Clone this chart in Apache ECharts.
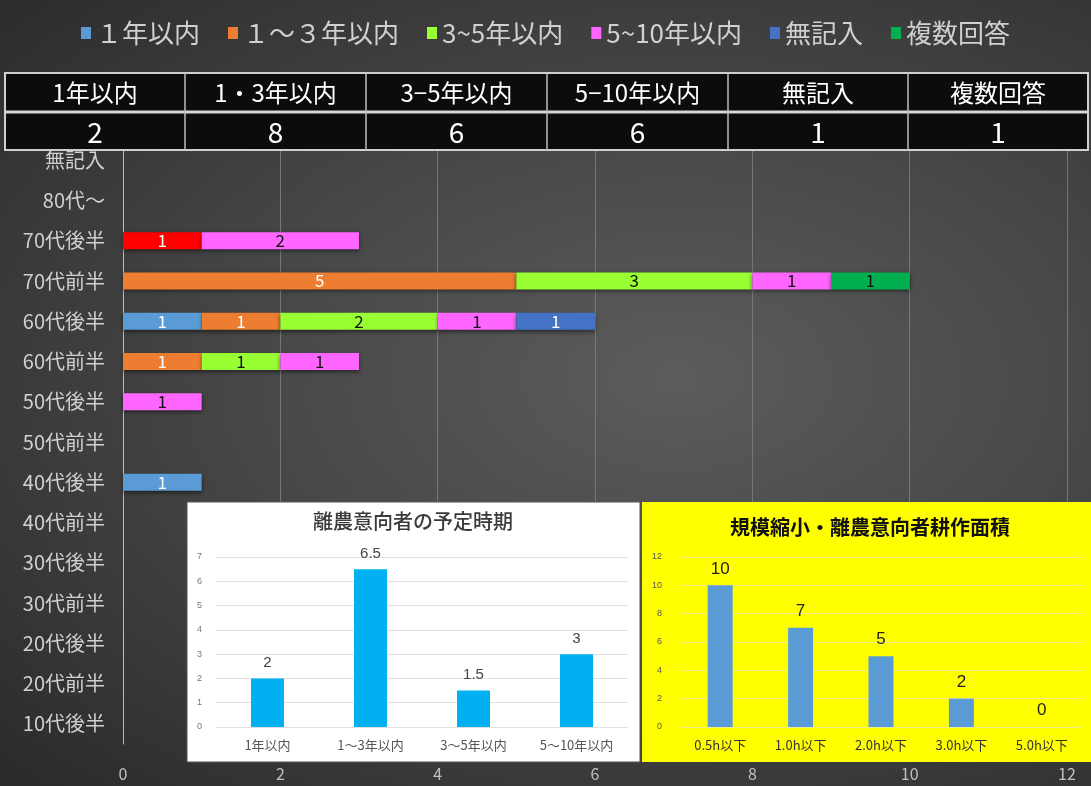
<!DOCTYPE html>
<html>
<head>
<meta charset="utf-8">
<script src="https://cdn.jsdelivr.net/npm/echarts@6/dist/echarts.min.js"></script>
<style>
  html, body { margin: 0; padding: 0; }
  #main {
    width: 1091px; height: 786px;
    background: radial-gradient(ellipse at 62% 48%, #5c5c5c 0%, #474747 45%, #2a2a2a 100%);
  }
</style>
</head>
<body>
<div id="main"></div>
<script>
// 年代カテゴリ（下から上）
var ages = ["10代後半", "20代前半", "20代後半", "30代前半", "30代後半", "40代前半", "40代後半",
  "50代前半", "50代後半", "60代前半", "60代後半", "70代前半", "70代後半", "80代～", "無記入"];

// 各系列（agesの順）
var redVals   = [0, 0, 0, 0, 0, 0, 0, 0, 0, 0, 0, 0, 1, 0, 0];
var y1Vals    = [0, 0, 0, 0, 0, 0, 1, 0, 0, 0, 1, 0, 0, 0, 0];
var y1to3Vals = [0, 0, 0, 0, 0, 0, 0, 0, 0, 1, 1, 5, 0, 0, 0];
var y3to5Vals = [0, 0, 0, 0, 0, 0, 0, 0, 0, 1, 2, 3, 0, 0, 0];
var y5to10Vals= [0, 0, 0, 0, 0, 0, 0, 0, 1, 1, 1, 1, 2, 0, 0];
var noneVals  = [0, 0, 0, 0, 0, 0, 0, 0, 0, 0, 1, 0, 0, 0, 0];
var multiVals = [0, 0, 0, 0, 0, 0, 0, 0, 0, 0, 0, 1, 0, 0, 0];

var legendNames = ["１年以内", "１～３年以内", "3~5年以内", "5~10年以内", "無記入", "複数回答"];

// 上部の表
var tableHeads = ["1年以内", "1・3年以内", "3−5年以内", "5−10年以内", "無記入", "複数回答"];
var tableVals = [2, 8, 6, 6, 1, 1];

// 小グラフ1：離農意向者の予定時期
var planCats = ["1年以内", "1～3年以内", "3～5年以内", "5～10年以内"];
var planVals = [2, 6.5, 1.5, 3];

// 小グラフ2：規模縮小・離農意向者耕作面積
var areaCats = ["0.5h以下", "1.0h以下", "2.0h以下", "3.0h以下", "5.0h以下"];
var areaVals = [10, 7, 5, 2, 0];

var myChart = echarts.init(document.getElementById("main"));
var font = "'Noto Sans CJK JP', sans-serif";

function stackSeries(name, data, color, labelColor) {
  return {
    name: name,
    type: "bar",
    stack: "total",
    xAxisIndex: 0,
    yAxisIndex: 0,
    barWidth: 17,
    data: data,
    itemStyle: { color: color, shadowBlur: 4, shadowColor: "rgba(0,0,0,0.5)", shadowOffsetY: 2 },
    label: {
      show: true,
      position: "inside",
      color: labelColor,
      fontSize: 17,
      fontFamily: font,
      formatter: function (p) { return p.value ? p.value : ""; }
    },
    z: 2
  };
}

// 表のグラフィック
var graphics = [];
var colX = [5, 185, 366, 547, 728, 908, 1088];
graphics.push({ type: "rect", shape: { x: 5, y: 73, width: 1083, height: 77 },
  style: { fill: "#0c0c0c", stroke: "#cfcfcf", lineWidth: 2 }, z: 10 });
graphics.push({ type: "line", shape: { x1: 5, y1: 112, x2: 1088, y2: 112 },
  style: { stroke: "#d8d8d8", lineWidth: 3 }, z: 11 });
for (var i = 0; i < tableHeads.length; i++) {
  if (i > 0) {
    graphics.push({ type: "line", shape: { x1: colX[i], y1: 73, x2: colX[i], y2: 150 },
      style: { stroke: "#bdbdbd", lineWidth: 1.5 }, z: 11 });
  }
  var cx = (colX[i] + colX[i + 1]) / 2;
  graphics.push({ type: "text", x: cx, y: 93, z: 12,
    style: { text: tableHeads[i], fill: "#fff", font: "24px " + font, align: "center", verticalAlign: "middle" } });
  graphics.push({ type: "text", x: cx, y: 132, z: 12,
    style: { text: String(tableVals[i]), fill: "#fff", font: "28px " + font, align: "center", verticalAlign: "middle" } });
}
// 小グラフのパネル
graphics.push({ type: "rect", shape: { x: 187, y: 502, width: 453, height: 260 },
  style: { fill: "#ffffff", stroke: "#555", lineWidth: 1 }, z: 1 });
graphics.push({ type: "rect", shape: { x: 642, y: 502, width: 449, height: 260 },
  style: { fill: "#ffff00" }, z: 1 });
graphics.push({ type: "text", x: 413, y: 521, z: 5,
  style: { text: "離農意向者の予定時期", fill: "#3a3a3a", font: "500 20px " + font, align: "center", verticalAlign: "middle" } });
graphics.push({ type: "text", x: 870, y: 527, z: 5,
  style: { text: "規模縮小・離農意向者耕作面積", fill: "#111", font: "bold 20px " + font, align: "center", verticalAlign: "middle" } });

var option = {
  animation: false,
  legend: {
    data: legendNames,
    top: 15,
    left: "center",
    itemWidth: 10,
    itemHeight: 12,
    itemGap: 28,
    icon: "rect",
    textStyle: { color: "#d0d0d0", fontSize: 26, fontFamily: font }
  },
  graphic: graphics,
  grid: [
    { left: 123, right: 24, top: 140, bottom: 42 },
    { left: 216, right: 463, top: 557, bottom: 59 },
    { left: 680, right: 9, top: 557, bottom: 59 }
  ],
  xAxis: [
    {
      gridIndex: 0, type: "value", min: 0, max: 12, interval: 2,
      axisLine: { show: false }, axisTick: { show: false },
      axisLabel: { color: "#c0c0c0", fontSize: 16, margin: 22, fontFamily: font },
      splitLine: { lineStyle: { color: "#777", width: 1 } },
      z: 0
    },
    {
      gridIndex: 1, type: "category", data: planCats,
      axisLine: { show: false }, axisTick: { show: false },
      axisLabel: { color: "#555", fontSize: 13, margin: 12, fontFamily: font },
      z: 3
    },
    {
      gridIndex: 2, type: "category", data: areaCats,
      axisLine: { show: false }, axisTick: { show: false },
      axisLabel: { color: "#333", fontSize: 13, margin: 12, fontFamily: font },
      z: 3
    }
  ],
  yAxis: [
    {
      gridIndex: 0, type: "category", data: ages,
      axisLine: { lineStyle: { color: "#bbb" } }, axisTick: { show: false },
      axisLabel: { color: "#d0d0d0", fontSize: 20, margin: 18, fontFamily: font },
      z: 0
    },
    {
      gridIndex: 1, type: "value", min: 0, max: 7, interval: 1,
      axisLine: { show: false }, axisTick: { show: false },
      axisLabel: { color: "#777", fontSize: 9, margin: 14 },
      splitLine: { lineStyle: { color: "#e0e0e0" } },
      z: 3
    },
    {
      gridIndex: 2, type: "value", min: 0, max: 12, interval: 2,
      axisLine: { show: false }, axisTick: { show: false },
      axisLabel: { color: "#555", fontSize: 9, margin: 18 },
      splitLine: { lineStyle: { color: "#eeee88" } },
      z: 3
    }
  ],
  series: [
    stackSeries("1年以内(赤)", redVals, "#ff0000", "#fff"),
    stackSeries("１年以内", y1Vals, "#5b9bd5", "#fff"),
    stackSeries("１～３年以内", y1to3Vals, "#ed7d31", "#fff"),
    stackSeries("3~5年以内", y3to5Vals, "#99ff33", "#111"),
    stackSeries("5~10年以内", y5to10Vals, "#ff66ff", "#111"),
    stackSeries("無記入", noneVals, "#4472c4", "#fff"),
    stackSeries("複数回答", multiVals, "#00b050", "#111"),
    {
      type: "bar", xAxisIndex: 1, yAxisIndex: 1, data: planVals, barWidth: 33,
      itemStyle: { color: "#00b0f0" },
      label: { show: true, position: "top", color: "#444", fontSize: 15, distance: 8 },
      z: 4
    },
    {
      type: "bar", xAxisIndex: 2, yAxisIndex: 2, data: areaVals, barWidth: 25,
      itemStyle: { color: "#5b9bd5" },
      label: { show: true, position: "top", color: "#222", fontSize: 17, distance: 8 },
      z: 4
    }
  ]
};

myChart.setOption(option);
</script>
</body>
</html>
